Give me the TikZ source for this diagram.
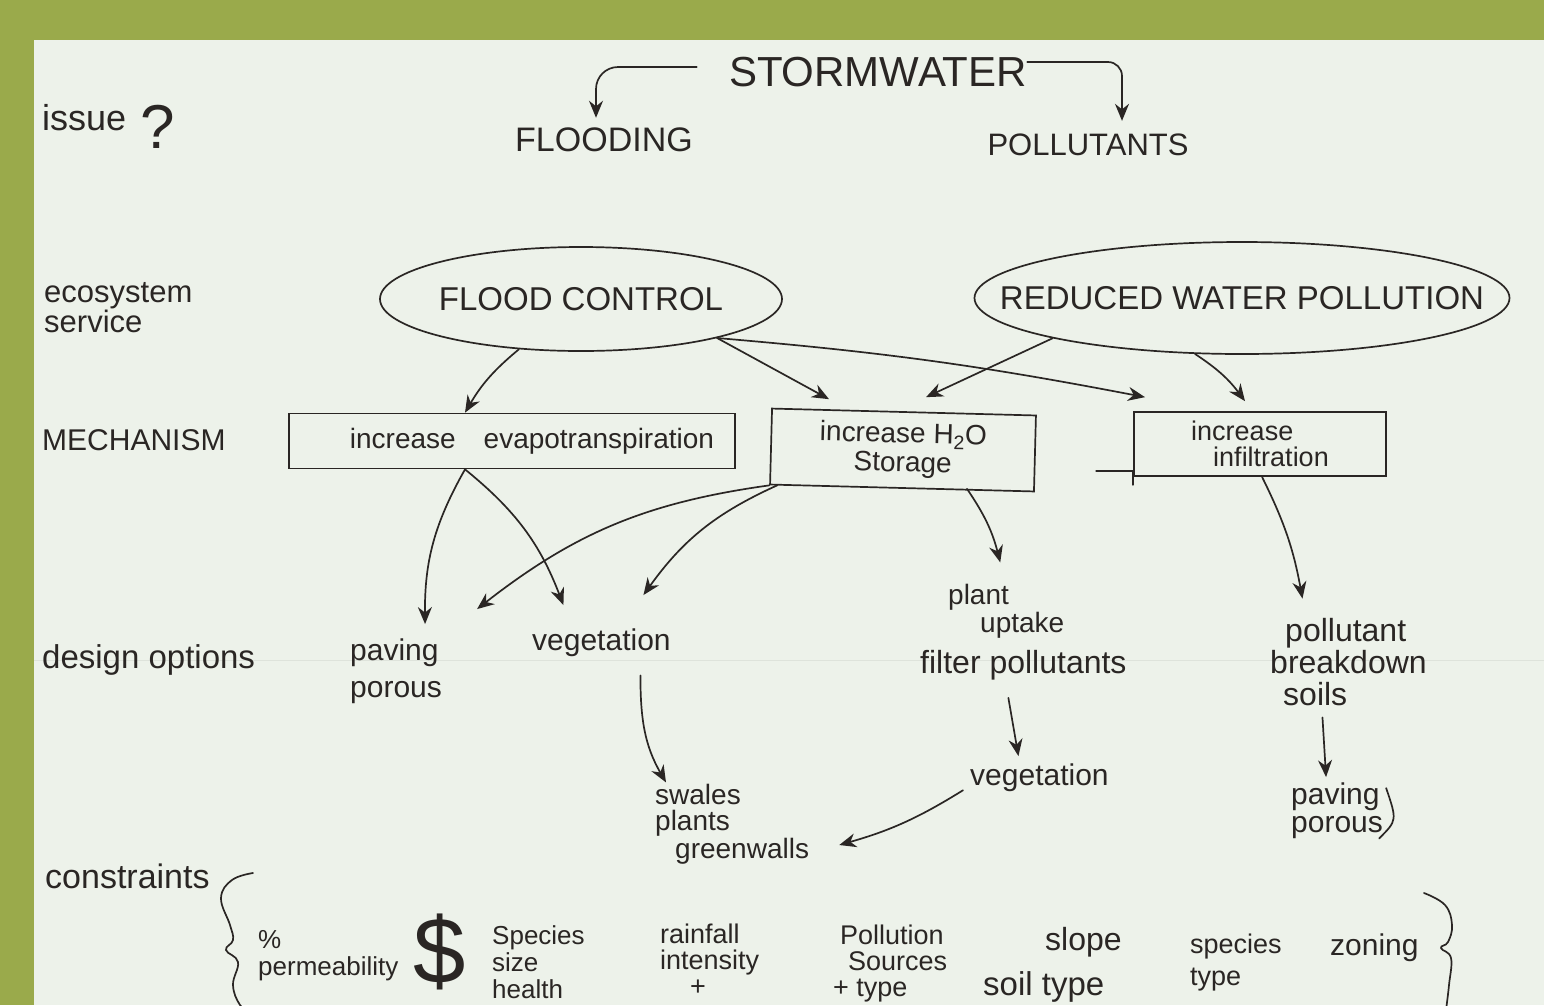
\documentclass[tikz,border=0pt]{standalone}
\usepackage{fontspec}
\setmainfont{Liberation Sans}
\usetikzlibrary{positioning}
\usetikzlibrary{arrows.meta}
\usetikzlibrary{shapes.geometric}
\definecolor{ink}{RGB}{42,38,36}
\definecolor{paper}{RGB}{237,242,234}
\definecolor{frame}{RGB}{154,170,75}
\definecolor{fold}{RGB}{222,227,219}

\begin{document}
\begin{tikzpicture}[
  x=1pt, y=-1pt,
  line/.style = {line width=1.7pt, color=ink, line cap=round},
  flow/.style = {line width=1.7pt, color=ink, line cap=round,
    -{Stealth[length=17pt, width=14pt]}},
  hand/.style = {text=ink, inner sep=0pt, align=left,
    font=\fontsize{30}{26}\selectfont},
  service/.style = {ellipse, draw=ink, line width=1.7pt, inner sep=0pt,
    text=ink, font=\fontsize{33}{33}\selectfont},
  mech/.style = {rectangle, draw=ink, line width=1.7pt, inner sep=0pt,
    align=center, text=ink, font=\fontsize{28}{29}\selectfont},
]

  % sheet
  \fill[frame] (0,0) rectangle (1544,1005);
  \fill[paper] (34,40) rectangle (1544,1005);
  \useasboundingbox (0,0) rectangle (1544,1005);
  \clip (0,0) rectangle (1544,1005);
  \draw[fold, line width=1pt] (34,660) -- (1544,660);

  % row labels
  \node[hand, anchor=base west, font=\fontsize{36}{36}\selectfont] (issue) at (42,130) {issue};
  \node[hand, anchor=base west, font=\fontsize{62}{62}\selectfont] (qmark) at (140,148) {?};
  \node[hand, anchor=base west, font=\fontsize{31}{27}\selectfont] (ecoLbl) at (44,332) {ecosystem\\service};
  \node[hand, anchor=base west] (mechLbl) at (42,450) {MECHANISM};
  \node[hand, anchor=base west, font=\fontsize{33}{33}\selectfont] (designLbl) at (42,668) {design options};
  \node[hand, anchor=base west, font=\fontsize{34}{34}\selectfont] (constrLbl) at (45,888) {constraints};

  % issue
  \node[hand, font=\fontsize{42}{42}\selectfont] (storm) at (878,72) {STORMWATER};
  \node[hand, font=\fontsize{34}{34}\selectfont] (flooding) at (604,140) {FLOODING};
  \node[hand, font=\fontsize{31}{31}\selectfont] (pollutants) at (1088,145) {POLLUTANTS};

  % ecosystem services
  \node[service, minimum width=402pt, minimum height=104pt] (flood) at (581,299) {FLOOD CONTROL};
  \node[service, minimum width=535pt, minimum height=112pt, inner xsep=-60pt] (reduced) at (1242,298) {REDUCED WATER POLLUTION};

  % mechanisms
  \node[mech, minimum width=446pt, minimum height=55pt] (evapo) at (512,441) {\hspace{40pt}increase\quad evapotranspiration};
  \node[mech, minimum width=264pt, minimum height=76pt, rotate=-1.5] (storage) at (903,450) {increase H\textsubscript{2}O\\Storage};
  \node[mech, minimum width=252pt, minimum height=64pt, align=left, font=\fontsize{27}{26}\selectfont] (infil) at (1260,444) {increase\\\hspace{22pt}infiltration};

  % design options
  \node[hand, anchor=base west, font=\fontsize{30}{37}\selectfont] (pav1) at (350,697) {paving\\porous};
  \node[hand, anchor=base west] (veg1) at (532,650) {vegetation};
  \node[hand, anchor=base west, font=\fontsize{28}{21}\selectfont] (plant) at (948,632) {plant\\\hspace{32pt}uptake};
  \node[hand, anchor=base west, font=\fontsize{32}{32}\selectfont] (filter) at (920,673) {filter pollutants};
  \node[hand, anchor=base west, font=\fontsize{32}{32}\selectfont] (pollut) at (1270,705) {\hspace{15pt}pollutant\\breakdown\\\hspace{13pt}soils};
  \node[hand, anchor=base west, font=\fontsize{28}{26}\selectfont] (swales) at (655,858) {swales\\plants\\\hspace{20pt}greenwalls};
  \node[hand, anchor=base west] (veg2) at (970,785) {vegetation};
  \node[hand, anchor=base west, font=\fontsize{30}{28}\selectfont] (pav2) at (1291,832) {paving\\porous};

  % constraints
  \node[hand, anchor=base west, font=\fontsize{26}{27}\selectfont] (perm) at (258,975) {\%\\permeability};
  \node[hand, font=\fontsize{94}{94}\selectfont] (dollar) at (440,952) {\$};
  \node[hand, anchor=base west, font=\fontsize{26}{27}\selectfont] (species) at (492,998) {Species\\size\\health};
  \node[hand, anchor=base west, font=\fontsize{27}{26}\selectfont] (rain) at (660,995) {rainfall\\intensity\\\hspace{30pt}+};
  \node[hand, anchor=base west, font=\fontsize{27}{26}\selectfont] (sources) at (833,996) {\hspace{7pt}Pollution\\\hspace{15pt}Sources\\+ type};
  \node[hand, anchor=base west, font=\fontsize{32}{32}\selectfont] (slope) at (1045,950) {slope};
  \node[hand, anchor=base west, font=\fontsize{33}{33}\selectfont] (soil) at (983,995) {soil type};
  \node[hand, anchor=base west, font=\fontsize{27}{32}\selectfont] (species2) at (1190,985) {species\\type};
  \node[hand, anchor=base west] (zoning) at (1330,955) {zoning};

  % stormwater splits
  \draw[flow, rounded corners=22pt] ([xshift=-32,yshift=5]storm.west) -| ([xshift=-8,yshift=10]flooding.north);
  \draw[flow, rounded corners=14pt] ([yshift=10]storm.east) -| ([xshift=34,yshift=13]pollutants.north);

  % service -> mechanism
  \draw[flow] (flood.219) to[bend right=10] ([xshift=-47]evapo.north);
  \draw[flow] (flood.-16) -- ([xshift=-75,yshift=12]storage.north);
  \draw[flow] (flood.-16) to[bend left=3] ([xshift=-115,yshift=14]infil.north);
  \draw[flow] (reduced.192) -- ([xshift=22,yshift=14]storage.north);
  \draw[flow] (reduced.230) to[bend left=10] ([xshift=-15,yshift=10]infil.north);
  \draw[line] ([xshift=-37,yshift=6]infil.south west) -- ([yshift=6]infil.south west) -- ([yshift=-8]infil.south west);

  % mechanism -> design options
  \draw[flow] ([xshift=-47]evapo.south) to[bend right=15] ([xshift=29,yshift=14]pav1.north);
  \draw[flow] ([xshift=-47]evapo.south) to[bend left=15] ([xshift=-38,yshift=23]veg1.north);
  \draw[flow] (storage.south west) to[bend right=15] ([xshift=81,yshift=29]pav1.north);
  \draw[flow] ([xshift=8]storage.south west) to[bend right=15] ([xshift=42,yshift=33]veg1.north);
  \draw[flow] ([xshift=65]storage.south) to[bend left=10] ([xshift=-6,yshift=22]plant.north);
  \draw[flow] ([xshift=2]infil.south) to[bend left=8] ([xshift=-46,yshift=19]pollut.north);

  % design options -> details
  \draw[flow] ([xshift=39,yshift=-19]veg1.south) to[out=-90,in=120] ([xshift=11,yshift=2]swales.north west);
  \draw[flow] ([xshift=-15,yshift=-18]filter.south) -- ([xshift=-21,yshift=7]veg2.north);
  \draw[flow] ([xshift=-7,yshift=-13]veg2.west) to[bend left=8] ([xshift=30,yshift=19]swales.south east);
  \draw[flow] ([xshift=-26,yshift=-12]pollut.south) -- ([xshift=-11,yshift=5]pav2.north);
  \draw[line] ([xshift=3,yshift=-6]pav2.north east) .. controls ([xshift=14,yshift=18]pav2.south east) .. ([xshift=-4]pav2.south east);

  % braces
  \draw[line] plot[smooth, tension=0.7] coordinates {(253,873) (232,880) (221,898) (230,925) (233,940) (226,950) (238,962) (233,985) (240,1005) (252,1015)};
  \draw[line] plot[smooth, tension=0.7] coordinates {(1424,893) (1445,905) (1452,925) (1448,942) (1441,948) (1451,958) (1449,985) (1446,1010)};

\end{tikzpicture}
\end{document}
